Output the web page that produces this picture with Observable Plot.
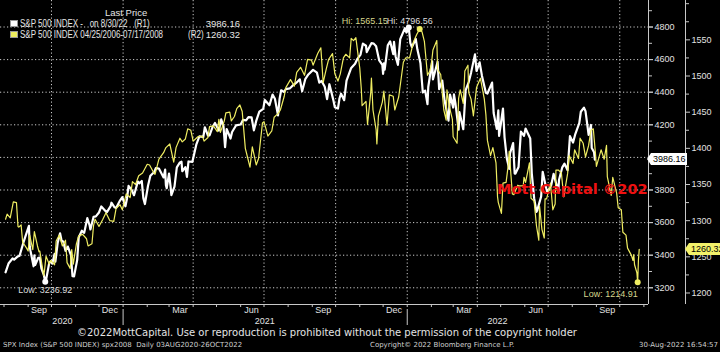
<!DOCTYPE html>
<html><head><meta charset="utf-8">
<script src="https://cdn.jsdelivr.net/npm/d3@7"></script>
<script src="https://cdn.jsdelivr.net/npm/@observablehq/plot@0.6"></script>
<style>
html,body{margin:0;padding:0;background:#000;}
#wrap{position:relative;width:720px;height:352px;overflow:hidden;background:#000;}
#chart{position:absolute;left:0;top:0;}
.ov{position:absolute;white-space:pre;line-height:1;margin:0;padding:0;}
#legend{position:absolute;left:0;top:0;width:260px;height:42px;font-family:"Liberation Sans",Arial,sans-serif;font-size:9.5px;color:#e6e6e6;}
#legend .t{position:absolute;white-space:pre;line-height:10px;}
#legend .nm{transform:scaleX(0.8);transform-origin:0 0;font-size:10px;}
#legend .sq{position:absolute;width:6px;height:5px;border:1px solid #999;}
.foot1{font-family:"DejaVu Sans",sans-serif;font-size:10px;color:#e4e4e4;}
.foot2{font-family:"DejaVu Sans",sans-serif;font-size:7px;color:#cfcfcf;}
#wm{position:absolute;left:0;top:0;width:648px;height:304px;overflow:hidden;pointer-events:none;}
#wm span{position:absolute;left:497px;top:182px;font-family:"DejaVu Sans",sans-serif;font-weight:bold;font-size:14.5px;color:#ee1111;white-space:pre;line-height:1;}
.tag{position:absolute;height:12px;font-family:"Liberation Sans",sans-serif;font-size:9px;line-height:12px;color:#000;padding:0 1px 0 2px;}
.tag::before{content:"";position:absolute;left:-4px;top:0;border-top:6px solid transparent;border-bottom:6px solid transparent;border-right:4px solid var(--c);}
</style></head>
<body><div id="wrap"></div>
<script>
// ---- data ----
const whiteSeries = [
["2020-08-03",3295],["2020-08-07",3351],["2020-08-12",3380],["2020-08-14",3373],["2020-08-18",3390],["2020-08-21",3397],["2020-08-26",3479],["2020-08-28",3508],
["2020-09-02",3580],["2020-09-03",3455],["2020-09-04",3427],["2020-09-08",3332],["2020-09-09",3399],["2020-09-10",3340],["2020-09-14",3384],["2020-09-16",3385],["2020-09-18",3319],["2020-09-21",3281],["2020-09-23",3236.92],["2020-09-24",3247],["2020-09-28",3351],["2020-09-30",3363],
["2020-10-02",3348],["2020-10-05",3408],["2020-10-06",3361],["2020-10-09",3477],["2020-10-12",3534],["2020-10-14",3489],["2020-10-16",3484],["2020-10-19",3427],["2020-10-22",3453],["2020-10-26",3401],["2020-10-28",3271],["2020-10-30",3270],
["2020-11-03",3370],["2020-11-05",3510],["2020-11-09",3550],["2020-11-10",3545],["2020-11-12",3537],["2020-11-16",3627],["2020-11-19",3582],["2020-11-20",3558],["2020-11-24",3635],["2020-11-27",3638],
["2020-12-01",3662],["2020-12-04",3699],["2020-12-09",3673],["2020-12-11",3663],["2020-12-16",3701],["2020-12-17",3722],["2020-12-21",3694],["2020-12-23",3690],["2020-12-28",3735],["2020-12-31",3756],
["2021-01-04",3700],["2021-01-06",3748],["2021-01-08",3825],["2021-01-12",3801],["2021-01-15",3768],["2021-01-20",3852],["2021-01-22",3841],["2021-01-25",3855],["2021-01-27",3750],["2021-01-29",3714],
["2021-02-02",3826],["2021-02-05",3887],["2021-02-10",3910],["2021-02-12",3934],["2021-02-16",3932],["2021-02-18",3914],["2021-02-22",3877],["2021-02-24",3925],["2021-02-25",3829],["2021-02-26",3811],
["2021-03-01",3901],["2021-03-03",3820],["2021-03-04",3768],["2021-03-08",3821],["2021-03-11",3939],["2021-03-15",3969],["2021-03-17",3974],["2021-03-18",3915],["2021-03-22",3940],["2021-03-24",3881],["2021-03-26",3975],["2021-03-31",3973],
["2021-04-05",4078],["2021-04-09",4129],["2021-04-14",4125],["2021-04-16",4185],["2021-04-20",4134],["2021-04-22",4135],["2021-04-26",4188],["2021-04-29",4211],
["2021-05-04",4165],["2021-05-07",4233],["2021-05-10",4189],["2021-05-12",4063],["2021-05-14",4174],["2021-05-18",4128],["2021-05-19",4116],["2021-05-21",4156],["2021-05-26",4196],
["2021-06-01",4202],["2021-06-04",4230],["2021-06-08",4227],["2021-06-11",4247],["2021-06-15",4246],["2021-06-18",4166],["2021-06-21",4224],["2021-06-25",4281],["2021-06-30",4298],
["2021-07-02",4352],["2021-07-08",4320],["2021-07-12",4385],["2021-07-15",4360],["2021-07-19",4258],["2021-07-21",4359],["2021-07-23",4412],["2021-07-27",4401],["2021-07-29",4419],
["2021-08-03",4423],["2021-08-06",4437],["2021-08-12",4460],["2021-08-16",4479],["2021-08-19",4406],["2021-08-23",4480],["2021-08-27",4509],
["2021-09-02",4537],["2021-09-07",4520],["2021-09-10",4459],["2021-09-13",4469],["2021-09-17",4433],["2021-09-20",4358],["2021-09-23",4449],["2021-09-28",4353],["2021-09-30",4308],
["2021-10-04",4300],["2021-10-06",4363],["2021-10-08",4391],["2021-10-12",4351],["2021-10-15",4471],["2021-10-21",4549],["2021-10-26",4575],["2021-10-29",4605],
["2021-11-02",4631],["2021-11-05",4698],["2021-11-09",4685],["2021-11-10",4646],["2021-11-16",4701],["2021-11-19",4698],["2021-11-22",4682],["2021-11-26",4595],["2021-11-30",4567],
["2021-12-01",4513],["2021-12-02",4577],["2021-12-03",4538],["2021-12-07",4687],["2021-12-10",4712],["2021-12-14",4634],["2021-12-15",4709],["2021-12-17",4621],["2021-12-20",4568],["2021-12-23",4726],["2021-12-29",4793],["2021-12-31",4766],
["2022-01-03",4796.56],["2022-01-05",4701],["2022-01-07",4677],["2022-01-12",4726],["2022-01-14",4663],["2022-01-18",4577],["2022-01-21",4398],["2022-01-24",4410],["2022-01-27",4327],["2022-01-28",4432],
["2022-02-02",4589],["2022-02-03",4478],["2022-02-09",4587],["2022-02-11",4419],["2022-02-15",4471],["2022-02-18",4349],["2022-02-23",4226],["2022-02-25",4385],
["2022-03-01",4306],["2022-03-02",4387],["2022-03-04",4329],["2022-03-08",4170],["2022-03-09",4278],["2022-03-14",4173],["2022-03-17",4412],["2022-03-21",4462],["2022-03-24",4520],["2022-03-29",4632],["2022-03-31",4530],
["2022-04-04",4583],["2022-04-07",4500],["2022-04-12",4397],["2022-04-14",4392],["2022-04-20",4459],["2022-04-22",4272],["2022-04-26",4175],["2022-04-28",4288],["2022-04-29",4132],
["2022-05-04",4300],["2022-05-06",4123],["2022-05-09",3991],["2022-05-12",3930],["2022-05-13",4024],["2022-05-17",4088],["2022-05-19",3901],["2022-05-20",3901],["2022-05-24",3941],["2022-05-27",4158],["2022-05-31",4132],
["2022-06-02",4177],["2022-06-08",4116],["2022-06-10",3901],["2022-06-13",3750],["2022-06-16",3666],["2022-06-17",3675],["2022-06-22",3760],["2022-06-24",3912],["2022-06-28",3821],["2022-06-30",3785],
["2022-07-05",3831],["2022-07-08",3899],["2022-07-14",3790],["2022-07-15",3863],["2022-07-19",3937],["2022-07-22",3962],["2022-07-26",3921],["2022-07-29",4130],
["2022-08-02",4091],["2022-08-05",4145],["2022-08-10",4210],["2022-08-12",4280],["2022-08-16",4305],["2022-08-18",4284],["2022-08-22",4138],["2022-08-25",4199],["2022-08-26",4058],["2022-08-29",4031],["2022-08-30",3986.16]
];
const yellowSeries = [
["2006-04-25",1302],["2006-04-27",1309],["2006-05-01",1304],["2006-05-05",1326],["2006-05-09",1325],["2006-05-11",1292],["2006-05-12",1291],["2006-05-15",1294],["2006-05-17",1270],["2006-05-19",1267],["2006-05-22",1262],["2006-05-24",1258],["2006-05-26",1280],["2006-05-30",1260],
["2006-06-01",1285],["2006-06-05",1265],["2006-06-07",1257],["2006-06-08",1258],["2006-06-13",1224],["2006-06-14",1231],["2006-06-16",1251],["2006-06-20",1240],["2006-06-22",1245],["2006-06-27",1239],["2006-06-29",1272],
["2006-07-03",1280],["2006-07-07",1265],["2006-07-11",1273],["2006-07-13",1242],["2006-07-17",1234],["2006-07-19",1260],["2006-07-21",1240],["2006-07-25",1268],["2006-07-28",1279],
["2006-08-02",1281],["2006-08-07",1275],["2006-08-09",1265],["2006-08-14",1268],["2006-08-16",1293],["2006-08-18",1302],["2006-08-23",1292],["2006-08-28",1302],
["2006-09-01",1311],["2006-09-06",1300],["2006-09-11",1299],["2006-09-14",1317],["2006-09-19",1322],["2006-09-22",1315],["2006-09-27",1337],
["2006-10-02",1332],["2006-10-05",1354],["2006-10-09",1350],["2006-10-13",1362],["2006-10-18",1366],["2006-10-24",1378],["2006-10-27",1377],
["2006-11-01",1367],["2006-11-03",1364],["2006-11-08",1385],["2006-11-14",1394],["2006-11-17",1401],["2006-11-22",1406],["2006-11-27",1381],["2006-11-30",1401],
["2006-12-05",1414],["2006-12-08",1409],["2006-12-12",1413],["2006-12-15",1427],["2006-12-19",1425],["2006-12-22",1410],["2006-12-28",1416],
["2007-01-03",1417],["2007-01-05",1410],["2007-01-10",1415],["2007-01-12",1430],["2007-01-17",1431],["2007-01-22",1423],["2007-01-24",1440],["2007-01-26",1422],["2007-01-31",1438],
["2007-02-02",1449],["2007-02-07",1450],["2007-02-09",1438],["2007-02-13",1444],["2007-02-16",1455],["2007-02-20",1460],["2007-02-23",1451],["2007-02-27",1400],
["2007-03-02",1387],["2007-03-05",1374],["2007-03-08",1402],["2007-03-13",1377],["2007-03-16",1386],["2007-03-21",1435],["2007-03-23",1437],["2007-03-28",1417],
["2007-04-02",1424],["2007-04-05",1443],["2007-04-10",1448],["2007-04-13",1453],["2007-04-18",1472],["2007-04-20",1484],["2007-04-26",1495],
["2007-05-01",1486],["2007-05-04",1505],["2007-05-09",1512],["2007-05-14",1501],["2007-05-18",1523],["2007-05-23",1522],["2007-05-25",1515],["2007-05-31",1531],
["2007-06-04",1539],["2007-06-07",1491],["2007-06-11",1510],["2007-06-14",1523],["2007-06-19",1531],["2007-06-22",1503],["2007-06-26",1493],["2007-06-29",1503],
["2007-07-03",1525],["2007-07-06",1530],["2007-07-11",1525],["2007-07-13",1552],["2007-07-16",1549],["2007-07-19",1553],["2007-07-24",1511],["2007-07-26",1482],["2007-07-27",1459],
["2007-08-01",1465],["2007-08-03",1433],["2007-08-07",1476],["2007-08-08",1497],["2007-08-10",1453],["2007-08-14",1426],["2007-08-15",1406],["2007-08-17",1445],["2007-08-22",1464],["2007-08-24",1479],["2007-08-28",1432],["2007-08-31",1474],
["2007-09-05",1472],["2007-09-07",1453],["2007-09-12",1471],["2007-09-18",1519],["2007-09-21",1525],["2007-09-26",1525],
["2007-10-01",1547],["2007-10-05",1557],["2007-10-09",1565.15],["2007-10-12",1561],["2007-10-15",1548],["2007-10-19",1501],["2007-10-22",1507],["2007-10-24",1516],["2007-10-26",1536],["2007-10-31",1549],
["2007-11-01",1509],["2007-11-05",1502],["2007-11-07",1476],["2007-11-09",1453],["2007-11-12",1439],["2007-11-13",1481],["2007-11-16",1458],["2007-11-20",1440],["2007-11-21",1416],["2007-11-26",1407],["2007-11-28",1469],["2007-11-30",1481],
["2007-12-04",1462],["2007-12-06",1507],["2007-12-10",1515],["2007-12-11",1477],["2007-12-14",1468],["2007-12-17",1445],["2007-12-21",1484],["2007-12-26",1497],["2007-12-31",1468],
["2008-01-02",1447],["2008-01-04",1411],["2008-01-08",1390],["2008-01-11",1401],["2008-01-15",1380],["2008-01-17",1333],["2008-01-18",1325],["2008-01-22",1310],["2008-01-24",1352],["2008-01-28",1353],["2008-01-31",1379],
["2008-02-01",1396],["2008-02-05",1337],["2008-02-07",1336],["2008-02-12",1349],["2008-02-14",1348],["2008-02-19",1348],["2008-02-20",1360],["2008-02-22",1353],["2008-02-27",1380],["2008-02-29",1331],
["2008-03-04",1327],["2008-03-07",1293],["2008-03-10",1273],["2008-03-11",1320],["2008-03-14",1288],["2008-03-17",1276],["2008-03-18",1330],["2008-03-20",1330],["2008-03-25",1352],["2008-03-28",1315],["2008-03-31",1323],
["2008-04-01",1370],["2008-04-04",1370],["2008-04-08",1366],["2008-04-11",1333],["2008-04-16",1365],["2008-04-18",1390],["2008-04-23",1379],["2008-04-25",1398],["2008-04-30",1386],
["2008-05-02",1414],["2008-05-06",1407],["2008-05-09",1388],["2008-05-13",1404],["2008-05-16",1425],["2008-05-19",1427],["2008-05-22",1390],["2008-05-23",1375],["2008-05-29",1398],
["2008-06-02",1385],["2008-06-05",1404],["2008-06-06",1361],["2008-06-11",1335],["2008-06-13",1360],["2008-06-18",1338],["2008-06-20",1318],["2008-06-24",1315],["2008-06-26",1284],["2008-06-30",1280],
["2008-07-02",1262],["2008-07-07",1252],["2008-07-09",1245],["2008-07-10",1253],["2008-07-11",1239],["2008-07-14",1228],["2008-07-15",1214.91],["2008-07-16",1246],["2008-07-17",1260.32]
];
const leftTicks = [3200,3400,3600,3800,4000,4200,4400,4600,4800];
const leftLabelTicks = [3200,3400,3600,3800,4200,4400,4600,4800]; // 4000 is hidden under the last-price tag
const leftMinorTicks = [3300,3500,3700,3900,4100,4300,4500,4700,4900];
const rightTicks = [1200,1250,1300,1350,1400,1450,1500,1550];
const rightMinorTicks = [1225,1275,1325,1375,1425,1475,1525,1575,1600];
const quarterLines = ["2020-10-01","2021-01-01","2021-04-01","2021-07-01","2021-10-01","2022-01-01","2022-04-01","2022-07-01","2022-10-01"];
const monthLabelDates = ["2020-09-15","2020-12-15","2021-03-15","2021-06-15","2021-09-15","2021-12-15","2022-03-15","2022-06-15","2022-09-15"];
const yearStarts = ["2021-01-01","2022-01-01"];
const yearLabelDates = ["2020-10-15","2021-07-02","2022-04-27"];
const xDomain = [new Date("2020-07-27T12:00:00Z"), new Date("2022-11-06T22:00:00Z")];
const leftDomain = [3097.5, 4962.6];   // R1 (white)
const rightDomain = [1184.1, 1604.4];  // R2 (yellow)
const legendTitle = "Last Price";
const legendRows = [
  {name: "S&P 500 INDEX -   on 8/30/22   (R1)", tagName: "", value: "3986.16", color: "#ffffff"},
  {name: "S&P 500 INDEX 04/25/2006-07/17/2008", tagName: "(R2)", value: "1260.32", color: "#eeee60"}
];
const WHITE = "#ffffff", YELLOW = "#efed62", YLABEL = "#d6d68c";

// ---- derived ----
const toLeft = r => leftDomain[0] + (r - rightDomain[0]) * (leftDomain[1] - leftDomain[0]) / (rightDomain[1] - rightDomain[0]);
const fromLeft = l => rightDomain[0] + (l - leftDomain[0]) * (rightDomain[1] - rightDomain[0]) / (leftDomain[1] - leftDomain[0]);
const white = whiteSeries.map(([d, v]) => ({date: new Date(d), value: v}));
const shift = Date.parse(whiteSeries[0][0]) - Date.parse(yellowSeries[0][0]);
const yellow = yellowSeries.map(([d, v]) => ({date: new Date(Date.parse(d) + shift), raw: v, value: toLeft(v)}));
const wLow = d3.least(white, d => d.value), wHigh = d3.greatest(white, d => d.value);
const yLow = d3.least(yellow, d => d.raw), yHigh = d3.greatest(yellow, d => d.raw);
const wLast = white[white.length - 1], yLast = yellow[yellow.length - 1];
const D = s => new Date(s);
const grid = {stroke: "#ffffff", strokeOpacity: 0.8, strokeDasharray: "1.2,2.3", strokeWidth: 1};

const plot = Plot.plot({
  width: 720, height: 326,
  marginLeft: 0, marginRight: 72, marginTop: 0, marginBottom: 22,
  x: {type: "utc", domain: xDomain},
  y: {domain: leftDomain},
  style: {background: "#000", color: "#e2e2e2", fontFamily: "'Liberation Sans', Arial, sans-serif", fontSize: "9px"},
  marks: [
    Plot.ruleY(leftTicks, grid),
    Plot.ruleX(quarterLines.map(D), grid),
    Plot.line(white, {x: "date", y: "value", stroke: WHITE, strokeWidth: 2.2}),
    Plot.line(yellow, {x: "date", y: "value", stroke: YELLOW, strokeWidth: 1.2}),
    Plot.dot([wLow, wHigh], {x: "date", y: "value", r: 3, fill: WHITE}),
    Plot.dot([yLow, yHigh], {x: "date", y: "value", r: 3, fill: YELLOW}),
    Plot.text([wLow], {x: "date", y: "value", text: d => "Low: " + d.value.toFixed(2), dy: 8, fill: "#dddddd", fontSize: 9}),
    Plot.text([wHigh], {x: "date", y: "value", text: d => "Hi: " + d.value.toFixed(2), dy: -6, dx: 1, fill: "#dddddd", fontSize: 9}),
    Plot.text([yHigh], {x: () => wHigh.date, y: () => wHigh.value, text: d => "Hi: " + d.raw.toFixed(2), dy: -6, dx: -21, textAnchor: "end", fill: YLABEL, fontSize: 9}),
    Plot.text([yLow], {x: "date", y: "value", text: d => "Low: " + d.raw.toFixed(2), dy: 12, textAnchor: "end", fill: YLABEL, fontSize: 9}),
    Plot.ruleY([leftDomain[0]], {stroke: "#c8c8c8"}),
    Plot.ruleX([xDomain[1]], {stroke: "#c8c8c8"}),
    Plot.ruleX([xDomain[1]], {stroke: "#c8c8c8", dx: 37}),
    Plot.axisY(leftTicks, {anchor: "right", tickSize: 4, tickPadding: 2, label: null, tickFormat: () => "", stroke: "#c8c8c8"}),
    Plot.axisY(leftLabelTicks, {anchor: "right", tickSize: 4, tickPadding: 2, label: null, tickFormat: d => String(d), stroke: "#c8c8c8", fill: "#e2e2e2", fontSize: 9}),
    Plot.axisY(leftMinorTicks, {anchor: "right", tickSize: 3, tickPadding: 0, label: null, tickFormat: () => "", stroke: "#c8c8c8"}),
    Plot.axisY(rightTicks.map(toLeft), {anchor: "right", dx: 37, tickSize: 4, tickPadding: 2, label: null, tickFormat: v => String(Math.round(fromLeft(v))), stroke: "#c8c8c8", fill: "#e2e2e2", fontSize: 9}),
    Plot.axisY(rightMinorTicks.map(toLeft), {anchor: "right", dx: 37, tickSize: 3, tickPadding: 0, label: null, tickFormat: () => "", stroke: "#c8c8c8"}),
    Plot.axisX(d3.utcMonth.range(xDomain[0], xDomain[1]), {anchor: "bottom", tickSize: 3, tickFormat: () => "", label: null, stroke: "#c8c8c8"}),
    Plot.axisX(monthLabelDates.map(D), {anchor: "bottom", tickSize: 0, tickPadding: 2, tickFormat: "%b", label: null, fill: "#e2e2e2", fontSize: 9}),
    Plot.axisX(yearStarts.map(D), {anchor: "bottom", tickSize: 16, dy: 5, tickFormat: () => "", label: null, stroke: "#c8c8c8"}),
    Plot.axisX(yearLabelDates.map(D), {anchor: "bottom", tickSize: 0, tickPadding: 13, tickFormat: "%Y", label: null, fill: "#e2e2e2", fontSize: 9})
  ]
});
plot.id = "chart";
const wrap = document.getElementById("wrap");
wrap.appendChild(plot);

// watermark, clipped to the plot frame
const wm = document.createElement("div"); wm.id = "wm";
wm.innerHTML = "<span>Mott Capital \u00A92022</span>";
wrap.appendChild(wm);

// legend
const lg = document.createElement("div"); lg.id = "legend"; wrap.appendChild(lg);
function lt(parent, cls, text, css) { const e = document.createElement("div"); e.className = cls; e.textContent = text; e.style.cssText = css; parent.appendChild(e); return e; }
lt(lg, "t", legendTitle, "left:105px;top:8px;");
legendRows.forEach((r, i) => {
  const ty = 19 + i * 11;
  const sq = document.createElement("div"); sq.className = "sq"; sq.style.cssText = `left:10px;top:${ty + 1}px;background:${r.color};`; lg.appendChild(sq);
  lt(lg, "t nm", r.name, `left:20px;top:${ty}px;`);
  if (r.tagName) lt(lg, "t nm", r.tagName, `left:188px;top:${ty}px;`);
  lt(lg, "t", r.value, `right:20px;top:${ty}px;`);
});

// last-price tags placed through the plot's y scale
const ys = plot.scale("y");
function tag(val, txt, bg, left) {
  const e = document.createElement("div"); e.className = "tag"; e.textContent = txt;
  e.style.setProperty("--c", bg);
  e.style.left = left + "px"; e.style.top = (ys.apply(val) - 6) + "px"; e.style.background = bg;
  wrap.appendChild(e);
}
tag(wLast.value, wLast.value.toFixed(2), "#ffffff", 651);
tag(yLast.value, yLast.raw.toFixed(2), "#f3f16a", 689);

// footer
function ov(cls, text, css) { const e = document.createElement("div"); e.className = "ov " + cls; e.textContent = text; e.style.cssText = css; wrap.appendChild(e); return e; }
ov("foot1", "\u00A92022MottCapital. Use or reproduction is prohibited without the permission of the copyright holder", "left:77px;top:328px;");
ov("foot2", "SPX Index (S&P 500 INDEX) spx2008  Daily 03AUG2020-26OCT2022", "left:3px;top:342px;");
ov("foot2", "Copyright\u00A9 2022 Bloomberg Finance L.P.", "left:370px;top:342px;");
ov("foot2", "30-Aug-2022 16:54:57", "right:2px;top:342px;");
</script>
</body></html>
